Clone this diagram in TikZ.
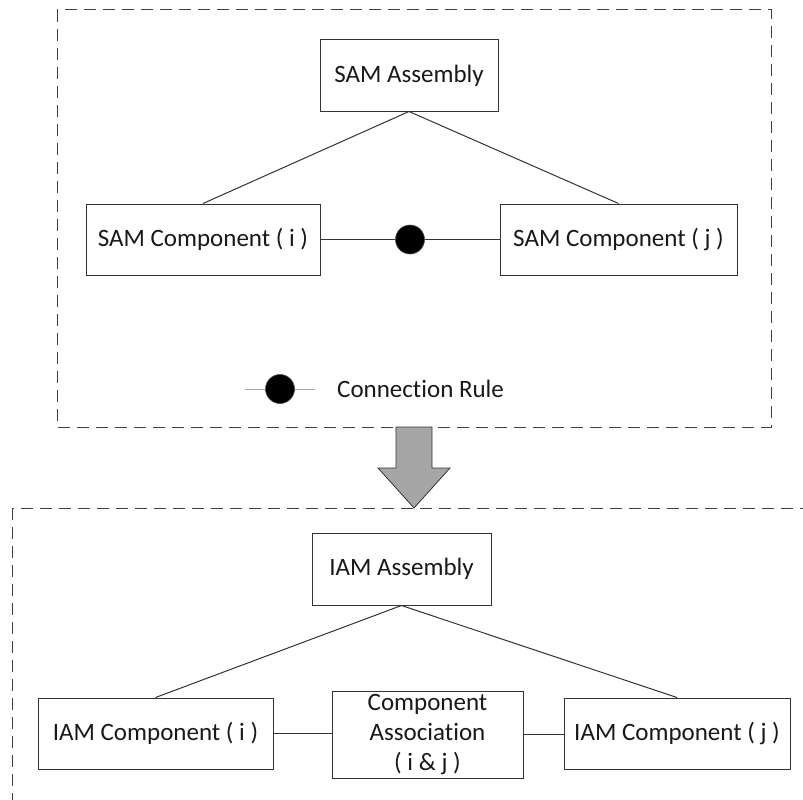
\documentclass[tikz,border=0pt]{standalone}
\usepackage{fontspec}
\setmainfont[Ligatures={NoCommon}]{Carlito}
\begin{document}
\begin{tikzpicture}[x=1pt,y=-1pt,
  box/.style={draw=black!80, line width=1pt, fill=white, inner sep=0pt,
    minimum height=71pt, align=center, text=black!90,
    font=\fontsize{25}{30}\selectfont},
  link/.style={draw=black!80, line width=1pt},
  frame/.style={draw=black!75, line width=1pt, dash pattern=on 12pt off 7pt},
  rulept/.style={circle, fill=black, draw=black!70, line width=0.6pt,
    inner sep=0pt, minimum size=29pt},
  legline/.style={draw=black!35, line width=1pt},
  bigarrow/.style={fill=black!35, draw=black!80, line width=0.8pt}]
\useasboundingbox (0,0) rectangle (803,800);
\clip (0,0) rectangle (803,800);

% upper group: structural assembly model
\draw[frame] (57,10) rectangle (771,427);
\node[box, minimum width=178pt] (samA) at (409,75.5) {SAM Assembly};
\node[box, minimum width=234pt] (samI) at (203,239.5) {SAM Component ( i )};
\node[box, minimum width=237pt] (samJ) at (618.5,239.5) {SAM Component ( j )};
\draw[link] (samA.south) -- (samI.north);
\draw[link] (samA.south) -- (samJ.north);
\node[rulept] (rule) at (410,239.5) {};
\draw[link] (samI.east) -- (rule);
\draw[link] (rule) -- (samJ.west);

% legend
\coordinate (legL) at (245,389);
\coordinate (legR) at (315,389);
\node[rulept] (legdot) at (280,389) {};
\draw[legline] (legL) -- (legdot);
\draw[legline] (legdot) -- (legR);
\node[anchor=west, inner sep=0pt, text=black!90,
  font=\fontsize{25}{30}\selectfont] (legtext) at (337,389) {Connection Rule};

% transformation arrow
\draw[bigarrow] (396,427) -- (396,468) -- (378,468) -- (414,508)
  -- (450,468) -- (432,468) -- (432,427) -- cycle;

% lower group: interface assembly model
\draw[frame] (12,508) rectangle (840,840);
\node[box, minimum width=179pt, minimum height=72pt] (iamA) at (401.5,569) {IAM Assembly};
\node[box, minimum width=235pt] (iamI) at (155.5,733.5) {IAM Component ( i )};
\node[box, minimum width=191pt, minimum height=87pt] (assoc) at (427.5,734.5)
  {Component\\Association\\( i \& j )};
\node[box, minimum width=226pt] (iamJ) at (677,733.5) {IAM Component ( j )};
\draw[link] (iamA.south) -- (iamI.north);
\draw[link] (iamA.south) -- (iamJ.north);
\draw[link] (iamI.east) -- (iamI.east -| assoc.west);
\draw[link] (assoc.east) -- (assoc.east -| iamJ.west);
\end{tikzpicture}
\end{document}
